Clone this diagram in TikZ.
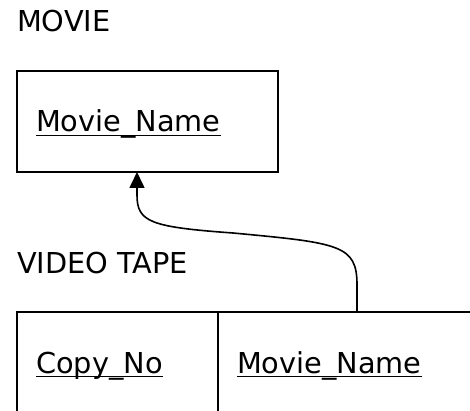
\documentclass[tikz,border=0pt]{standalone}
\usepackage{fontspec}
\setmainfont{DejaVu Sans}
\usetikzlibrary{arrows.meta}

\begin{document}
\begin{tikzpicture}[x=1pt,y=-1pt,
    every node/.style={inner sep=0pt,outer sep=0pt,font=\fontsize{28.8}{34}\selectfont},
    relbox/.style={draw,line width=1.6pt,anchor=north west},
    keyline/.style={line width=1.6pt},
    fk/.style={line width=1.6pt,-{Triangle[length=16pt,width=15pt]}}]
    \useasboundingbox (0,0) rectangle (470,411);
    % MOVIE
    \node (movielabel) at (17,32) [anchor=base west] {MOVIE};
    \node (moviebox) at (17,71) [relbox,minimum width=261pt,minimum height=101pt] {};
    \node (moviekey) at (36,132) [anchor=base west] {Movie\_Name};
    % VIDEO TAPE
    \node (tapelabel) at (17,273) [anchor=base west] {VIDEO TAPE};
    \node (copycell) at (17,312) [relbox,minimum width=201pt,minimum height=130pt] {};
    \node (namecell) at (218,312) [relbox,minimum width=300pt,minimum height=130pt] {};
    \node (copykey) at (36,373) [anchor=base west] {Copy\_No};
    \node (namekey) at (237,373) [anchor=base west] {Movie\_Name};
    % key underlines
    \foreach \k in {moviekey,copykey,namekey}
        \draw[keyline] ([yshift=-3.5pt]\k.base west) -- ([yshift=-3.5pt]\k.base east);
    % foreign key
    \coordinate (tail) at (357,312);
    \coordinate (head) at (137,172);
    \draw[fk] (tail) -- (357,285) .. controls (357,245) and (340,243) .. (233,233)
        .. controls (150,227) and (137,222) .. (137,195) -- (head);
\end{tikzpicture}
\end{document}
